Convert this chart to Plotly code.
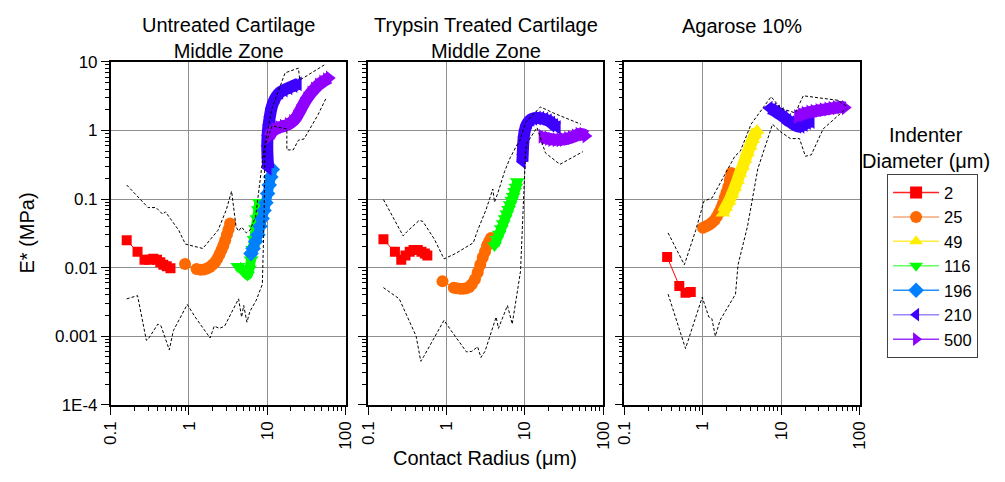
import plotly.graph_objects as go

# ---------------- data ----------------
series_names = ["2", "25", "49", "116", "196", "210", "500"]

# Panel 1: Untreated Cartilage, Middle Zone
p1_d2_x = [0.16, 0.22, 0.27, 0.31, 0.35, 0.39, 0.43, 0.47, 0.52, 0.58]
p1_d2_y = [0.025, 0.017, 0.013, 0.013, 0.0135, 0.013, 0.012, 0.011, 0.0105, 0.0098]
p1_d25_x = [0.89, 1.25, 1.4, 1.55, 1.7, 1.85, 2.0, 2.15, 2.3, 2.45, 2.6, 2.75, 2.9, 3.05, 3.2, 3.35]
p1_d25_y = [0.0113, 0.0095, 0.0093, 0.0094, 0.0097, 0.0102, 0.011, 0.012, 0.0135, 0.0155, 0.018, 0.021, 0.025, 0.030, 0.036, 0.044]
p1_d116_x = [4.2, 4.6, 5.0, 5.3, 5.6, 5.9, 6.2, 6.5, 6.8, 7.1, 7.4, 7.7, 7.9]
p1_d116_y = [0.0105, 0.0098, 0.009, 0.0083, 0.0078, 0.0095, 0.013, 0.0185, 0.026, 0.037, 0.052, 0.07, 0.09]
p1_d196_x = [6.2, 6.6, 7.1, 7.6, 8.1, 8.6, 9.1, 9.6, 10.1, 10.6, 11.1, 11.6]
p1_d196_y = [0.016, 0.019, 0.024, 0.030, 0.040, 0.052, 0.068, 0.088, 0.12, 0.16, 0.21, 0.27]
p1_d210_x = [10.3, 10.1, 10.0, 10.1, 10.4, 10.8, 11.3, 12, 13, 14.5, 16.5, 19, 22, 25]
p1_d210_y = [0.28, 0.4, 0.6, 0.85, 1.2, 1.6, 2.1, 2.6, 3.1, 3.6, 3.9, 4.2, 4.5, 4.8]
p1_d500_x = [10.5, 11.5, 12.5, 14, 16, 18.5, 21, 23.5, 26, 29, 32, 36, 40, 45, 51, 57, 62]
p1_d500_y = [0.8, 0.95, 1.03, 1.1, 1.15, 1.22, 1.35, 1.55, 1.9, 2.4, 2.9, 3.5, 4.0, 4.6, 5.1, 5.5, 5.8]
p1_upper_x = [0.16, 0.3, 0.38, 0.46, 0.5, 0.74, 0.9, 1.5, 2.35, 3.0, 3.5, 4.0, 4.3, 4.7, 5.4, 6.0, 7.1, 8.65, 9.0, 11.5, 14, 16.9, 25, 26, 28, 53.5]
p1_upper_y = [0.16, 0.075, 0.075, 0.06, 0.065, 0.035, 0.022, 0.019, 0.035, 0.07, 0.13, 0.039, 0.034, 0.039, 0.032, 0.035, 0.055, 0.38, 0.5, 2.1, 4.0, 6.9, 8.1, 5.5, 5.7, 9.0]
p1_lower_x = [0.16, 0.22, 0.285, 0.3, 0.4, 0.44, 0.56, 0.63, 0.95, 1.2, 1.86, 2.1, 2.45, 2.85, 4.3, 4.7, 5.0, 5.5, 6.0, 7.2, 8.65, 9.1, 9.3, 9.4, 11.5, 14, 17.8, 17.8, 21.5, 25, 29.5, 44.6, 56]
p1_lower_y = [0.0035, 0.0039, 0.00087, 0.0009, 0.0015, 0.0014, 0.00063, 0.0012, 0.0029, 0.0019, 0.00094, 0.0014, 0.0013, 0.0014, 0.0035, 0.0019, 0.0028, 0.0016, 0.0023, 0.0033, 0.0057, 0.05, 0.38, 0.6, 1.16, 1.1, 1.05, 0.52, 0.52, 0.72, 0.75, 1.7, 2.9]

# Panel 2: Trypsin Treated Cartilage, Middle Zone
p2_d2_x = [0.157, 0.22, 0.265, 0.3, 0.34, 0.38, 0.43, 0.48, 0.53, 0.57]
p2_d2_y = [0.026, 0.017, 0.013, 0.015, 0.017, 0.018, 0.018, 0.017, 0.016, 0.015]
p2_d25_x = [0.89, 1.24, 1.35, 1.5, 1.65, 1.8, 1.95, 2.1, 2.3, 2.5, 2.7, 2.9, 3.1, 3.3, 3.5, 3.7]
p2_d25_y = [0.0063, 0.0051, 0.005, 0.0049, 0.0049, 0.005, 0.0052, 0.0057, 0.0067, 0.0085, 0.011, 0.014, 0.017, 0.021, 0.024, 0.027]
p2_d116_x = [4.1, 4.4, 4.7, 5.0, 5.3, 5.6, 5.9, 6.2, 6.5, 6.8, 7.1, 7.4, 7.7, 8.0]
p2_d116_y = [0.021, 0.026, 0.031, 0.037, 0.044, 0.052, 0.061, 0.071, 0.083, 0.097, 0.11, 0.13, 0.15, 0.18]
p2_d210_x = [9.3, 9.4, 9.5, 9.7, 10, 10.5, 11.2, 12, 13, 14.5, 16, 18, 20, 22, 24, 26]
p2_d210_y = [0.35, 0.45, 0.6, 0.8, 1.0, 1.2, 1.35, 1.45, 1.5, 1.52, 1.5, 1.45, 1.38, 1.28, 1.18, 1.1]
p2_d500_x = [16.5, 18, 20, 22, 25, 28, 31, 35, 39, 44, 49, 55, 60]
p2_d500_y = [0.82, 0.78, 0.76, 0.74, 0.73, 0.73, 0.74, 0.76, 0.79, 0.83, 0.88, 0.88, 0.83]
p2_upper_x = [0.157, 0.28, 0.31, 0.45, 0.5, 0.7, 0.93, 1.3, 2.2, 2.5, 3.2, 3.9, 4.1, 4.5, 5.5, 6.5, 8.1, 8.6, 10.2, 15.8, 23, 52]
p2_upper_y = [0.098, 0.029, 0.033, 0.049, 0.047, 0.026, 0.0134, 0.016, 0.023, 0.035, 0.07, 0.14, 0.09, 0.12, 0.25, 0.4, 0.64, 0.7, 1.3, 2.2, 1.8, 1.23]
p2_lower_x = [0.157, 0.25, 0.41, 0.47, 0.51, 0.93, 1.15, 1.8, 2.1, 2.5, 2.75, 3.1, 4.3, 4.6, 6.0, 6.9, 8.8, 9.2, 9.5, 10.2, 10.5, 14.3, 18.3, 28, 55]
p2_lower_y = [0.0051, 0.0035, 0.001, 0.00043, 0.0005, 0.0017, 0.0012, 0.00059, 0.0006, 0.0007, 0.00049, 0.0006, 0.0019, 0.0013, 0.0028, 0.0015, 0.0088, 0.035, 0.1, 0.47, 0.64, 1.1, 0.47, 0.32, 0.49]

# Panel 3: Agarose 10%
p3_d2_x = [0.35, 0.5, 0.6, 0.7]
p3_d2_y = [0.0143, 0.0054, 0.0043, 0.0044]
p3_d25_x = [1.0, 1.1, 1.2, 1.3, 1.4, 1.5, 1.6, 1.7, 1.8, 1.9, 2.0, 2.1, 2.2, 2.3]
p3_d25_y = [0.038, 0.04, 0.042, 0.045, 0.049, 0.055, 0.063, 0.073, 0.086, 0.105, 0.125, 0.15, 0.19, 0.24]
p3_d49_x = [1.8, 1.95, 2.15, 2.35, 2.55, 2.75, 2.95, 3.2, 3.45, 3.7, 4.0, 4.3, 4.6, 4.9]
p3_d49_y = [0.062, 0.075, 0.092, 0.117, 0.147, 0.185, 0.235, 0.295, 0.375, 0.47, 0.59, 0.73, 0.87, 1.0]
p3_d210_x = [7.0, 7.8, 8.7, 9.7, 10.8, 12, 13.3, 14.7, 16.2, 17.8, 19.5, 21.5, 24]
p3_d210_y = [2.1, 2.0, 1.85, 1.7, 1.55, 1.4, 1.3, 1.2, 1.15, 1.15, 1.22, 1.3, 1.35]
p3_d500_x = [16, 18, 20, 23, 26, 30, 34, 39, 44, 50, 57, 65]
p3_d500_y = [1.6, 1.7, 1.78, 1.85, 1.9, 1.95, 2.0, 2.05, 2.1, 2.15, 2.2, 2.15]
p3_upper_x = [0.36, 0.58, 0.81, 1.03, 1.31, 2.55, 3.0, 4.1, 7.4, 9.8, 15, 19, 52, 70]
p3_upper_y = [0.032, 0.011, 0.035, 0.093, 0.104, 0.42, 0.5, 1.23, 3.1, 2.1, 1.8, 3.2, 2.75, 2.2]
p3_lower_x = [0.36, 0.6, 0.98, 1.19, 1.3, 1.44, 1.65, 2.6, 2.8, 3.7, 5.0, 7.7, 9.8, 13, 17, 20.2, 24, 34, 67]
p3_lower_y = [0.0041, 0.00066, 0.0037, 0.0019, 0.0018, 0.001, 0.0017, 0.0041, 0.011, 0.04, 0.275, 1.23, 0.95, 0.76, 0.76, 0.42, 0.44, 1.05, 2.1]

panel_titles = ["Untreated Cartilage<br>Middle Zone", "Trypsin Treated Cartilage<br>Middle Zone", "Agarose 10%"]
x_tick_vals = [0.1, 1, 10, 100]
x_tick_text = ["0.1", "1", "10", "100"]
y_tick_vals = [10, 1, 0.1, 0.01, 0.001, 0.0001]
y_tick_text = ["10", "1", "0.1", "0.01", "0.001", "1E-4"]

# ---------------- styling ----------------
marker_colors = {"2": "#FF0000", "25": "#FF6A00", "49": "#FFEE00", "116": "#00FF00",
                 "196": "#0080FF", "210": "#3D00FF", "500": "#9000FF"}
legend_line_colors = {"2": "#FF2020", "25": "#F5A77A", "49": "#FFEE40", "116": "#66FF66",
                      "196": "#2090FF", "210": "#9A85FF", "500": "#9A30FF"}
symbols = {"2": "square", "25": "circle", "49": "triangle-up", "116": "triangle-down",
           "196": "diamond", "210": "triangle-left", "500": "triangle-right"}
msize = {"2": 10, "25": 12, "49": 13, "116": 13, "196": 12, "210": 13, "500": 13}
band = {"2": 0, "25": 10, "49": 12, "116": 10, "196": 10, "210": 12, "500": 12}

panels = [
    {"2": (p1_d2_x, p1_d2_y), "25": (p1_d25_x, p1_d25_y), "116": (p1_d116_x, p1_d116_y),
     "196": (p1_d196_x, p1_d196_y), "210": (p1_d210_x, p1_d210_y), "500": (p1_d500_x, p1_d500_y)},
    {"2": (p2_d2_x, p2_d2_y), "25": (p2_d25_x, p2_d25_y), "116": (p2_d116_x, p2_d116_y),
     "210": (p2_d210_x, p2_d210_y), "500": (p2_d500_x, p2_d500_y)},
    {"2": (p3_d2_x, p3_d2_y), "25": (p3_d25_x, p3_d25_y), "49": (p3_d49_x, p3_d49_y),
     "210": (p3_d210_x, p3_d210_y), "500": (p3_d500_x, p3_d500_y)},
]
bounds = [
    [(p1_upper_x, p1_upper_y), (p1_lower_x, p1_lower_y)],
    [(p2_upper_x, p2_upper_y), (p2_lower_x, p2_lower_y)],
    [(p3_upper_x, p3_upper_y), (p3_lower_x, p3_lower_y)],
]

W, H = 1005, 482
x_px = [(103.7, 343.0), (366.0, 605.7), (627.3, 867.3)]
y_px = (55.0, 412.0)
FONT = "Liberation Sans, Arial, sans-serif"
TITLE_SIZE = 20
TICK_SIZE = 17
LEGEND_SIZE = 16.5

fig = go.Figure()

# legend-only entries
for name in series_names:
    fig.add_trace(go.Scatter(
        x=[None], y=[None], mode="lines+markers", name=name,
        line=dict(color=legend_line_colors[name], width=1.5),
        marker=dict(symbol=symbols[name], color=marker_colors[name], size=12),
        xaxis="x", yaxis="y", legendgroup=name, showlegend=True))

for i, pdata in enumerate(panels):
    xa = "x" if i == 0 else f"x{i+1}"
    ya = "y" if i == 0 else f"y{i+1}"
    for name in series_names:
        if name not in pdata:
            continue
        xs, ys = pdata[name]
        # isolated first circle for the 25 um indenter in panels 1 and 2
        start = 1 if (name == "25" and i < 2) else 0
        if band[name] > 0:
            fig.add_trace(go.Scatter(
                x=xs[start:], y=ys[start:], mode="lines", xaxis=xa, yaxis=ya,
                line=dict(color=marker_colors[name], width=band[name], shape="spline", smoothing=0.6),
                showlegend=False, legendgroup=name, hoverinfo="skip"))
        fig.add_trace(go.Scatter(
            x=xs, y=ys, mode="lines+markers", xaxis=xa, yaxis=ya,
            line=dict(color=marker_colors[name], width=1),
            marker=dict(symbol=symbols[name], color=marker_colors[name], size=msize[name]),
            showlegend=False, legendgroup=name, name=name))
    for bx, by in bounds[i]:
        fig.add_trace(go.Scatter(
            x=bx, y=by, mode="lines", xaxis=xa, yaxis=ya,
            line=dict(color="black", width=1, dash="3px,2px"),
            showlegend=False, hoverinfo="skip"))

minor_x = [m * 10 ** e for e in (-1, 0, 1) for m in range(2, 10)]
minor_y = [m * 10 ** e for e in (-4, -3, -2, -1, 0) for m in range(2, 10)]

layout = dict(
    width=W, height=H, margin=dict(l=0, r=0, t=0, b=0),
    paper_bgcolor="white", plot_bgcolor="white",
    font=dict(family=FONT, size=16, color="black"),
    showlegend=True,
    legend=dict(x=895 / W, y=1 - 172 / H, xanchor="left", yanchor="top",
                bordercolor="#404040", borderwidth=1, bgcolor="white",
                font=dict(family=FONT, size=LEGEND_SIZE, color="black"),
                itemwidth=46, tracegroupgap=0),
)
for i in range(3):
    x0, x1 = x_px[i]
    xk = "xaxis" if i == 0 else f"xaxis{i+1}"
    yk = "yaxis" if i == 0 else f"yaxis{i+1}"
    layout[xk] = dict(
        type="log", range=[-1, 2], domain=[x0 / W, x1 / W],
        anchor="y" if i == 0 else f"y{i+1}",
        showline=True, linecolor="black", linewidth=1.5, mirror=True,
        ticks="outside", ticklen=8, tickwidth=1.2, tickcolor="black",
        tickmode="array", tickvals=x_tick_vals, ticktext=x_tick_text, tickangle=-90,
        tickfont=dict(size=TICK_SIZE), showgrid=True, gridcolor="#8f8f8f", gridwidth=1, zeroline=False,
        minor=dict(ticks="outside", ticklen=4, tickwidth=1, tickcolor="black",
                   tickmode="array", tickvals=minor_x, showgrid=False))
    layout[yk] = dict(
        type="log", range=[-4, 1], domain=[1 - y_px[1] / H, 1 - y_px[0] / H],
        anchor="x" if i == 0 else f"x{i+1}",
        showline=True, linecolor="black", linewidth=1.5, mirror=True,
        ticks="outside", ticklen=8, tickwidth=1.2, tickcolor="black",
        tickmode="array", tickvals=y_tick_vals, ticktext=y_tick_text,
        showticklabels=(i == 0), tickfont=dict(size=TICK_SIZE),
        showgrid=True, gridcolor="#8f8f8f", gridwidth=1, zeroline=False,
        minor=dict(ticks="outside", ticklen=4, tickwidth=1, tickcolor="black",
                   tickmode="array", tickvals=minor_y, showgrid=False))
fig.update_layout(**layout)

annotations = []
title_y = [30, 30, 18]
for i in range(3):
    cx = (x_px[i][0] + x_px[i][1]) / 2
    annotations.append(dict(text=panel_titles[i], x=cx / W, y=1 - title_y[i] / H,
                            xref="paper", yref="paper", xanchor="center", yanchor="middle",
                            showarrow=False, font=dict(size=TITLE_SIZE)))
annotations.append(dict(text="E* (MPa)", x=18 / W, y=1 - 233 / H, xref="paper", yref="paper",
                        textangle=-90, showarrow=False, xanchor="center", yanchor="middle",
                        font=dict(size=TITLE_SIZE)))
annotations.append(dict(text="Contact Radius (\u03bcm)", x=485 / W, y=1 - 467 / H, xref="paper",
                        yref="paper", showarrow=False, xanchor="center", yanchor="middle",
                        font=dict(size=TITLE_SIZE)))
annotations.append(dict(text="Indenter", x=935 / W, y=1 - 131 / H, xref="paper", yref="paper",
                        showarrow=False, xanchor="center", yanchor="middle", font=dict(size=TITLE_SIZE)))
annotations.append(dict(text="Diameter (\u03bcm)", x=935 / W, y=1 - 158 / H, xref="paper", yref="paper",
                        showarrow=False, xanchor="center", yanchor="middle", font=dict(size=TITLE_SIZE)))
fig.update_layout(annotations=annotations)

fig.write_html("out.html")
